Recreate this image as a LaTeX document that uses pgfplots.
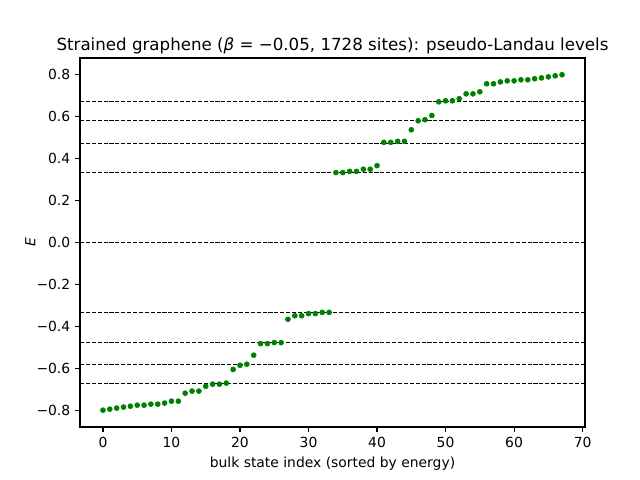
\documentclass[border=0pt]{standalone}
\usepackage{fontspec}
\setmainfont{DejaVu Sans}
\usepackage{pgfplots}
\pgfplotsset{compat=1.18}
\definecolor{dotgreen}{RGB}{0,128,0}

\begin{document}
\begin{tikzpicture}
    % page = 640x480 px at 100 dpi
    \path[use as bounding box] (-57.6pt,-38.16pt) rectangle (403.2pt,307.44pt);
    \begin{axis}[
        at={(0,0)}, anchor=south west,
        scale only axis,
        width=363.6pt,
        height=265.7pt,
        xmin=-3.35, xmax=70.35,
        ymin=-0.879, ymax=0.879,
        xtick={0,10,...,70},
        ytick={-0.8,-0.6,-0.4,-0.2,0,0.2,0.4,0.6,0.8},
        yticklabels={−0.8,−0.6,−0.4,−0.2,0.0,0.2,0.4,0.6,0.8},
        xticklabels={0,10,20,30,40,50,60,70},
        tick align=outside,
        tick pos=left,
        major tick length=3.5pt,
        tick style={black, line width=0.8pt},
        axis line style={line width=0.8pt},
        tick label style={font=\fontsize{10}{12}\selectfont},
        label style={font=\fontsize{10}{12}\selectfont},
        xlabel={bulk state index (sorted by energy)},
        ylabel={\textit{E}},
        xlabel style={yshift=0pt},
        ylabel style={yshift=-6pt},
        title={Strained graphene (\textit{β} = −0.05, 1728 sites): pseudo-Landau levels},
        title style={font=\fontsize{12}{14}\selectfont, yshift=-6.5pt},
    ]
        % pseudo-Landau level guides
        \addplot[black, line width=0.6pt, dash pattern=on 2.96pt off 1.28pt] coordinates {(-3.35,0) (70.35,0)};
        \addplot[black, line width=0.6pt, dash pattern=on 2.96pt off 1.28pt] coordinates {(-3.35,0.335) (70.35,0.335)};
        \addplot[black, line width=0.6pt, dash pattern=on 2.96pt off 1.28pt] coordinates {(-3.35,-0.335) (70.35,-0.335)};
        \addplot[black, line width=0.6pt, dash pattern=on 2.96pt off 1.28pt] coordinates {(-3.35,0.474) (70.35,0.474)};
        \addplot[black, line width=0.6pt, dash pattern=on 2.96pt off 1.28pt] coordinates {(-3.35,-0.474) (70.35,-0.474)};
        \addplot[black, line width=0.6pt, dash pattern=on 2.96pt off 1.28pt] coordinates {(-3.35,0.580) (70.35,0.580)};
        \addplot[black, line width=0.6pt, dash pattern=on 2.96pt off 1.28pt] coordinates {(-3.35,-0.580) (70.35,-0.580)};
        \addplot[black, line width=0.6pt, dash pattern=on 2.96pt off 1.28pt] coordinates {(-3.35,0.670) (70.35,0.670)};
        \addplot[black, line width=0.6pt, dash pattern=on 2.96pt off 1.28pt] coordinates {(-3.35,-0.670) (70.35,-0.670)};

        % bulk states
        \addplot[only marks, mark=*, mark size=1.8pt, color=dotgreen, mark options={draw=dotgreen, fill=dotgreen}] coordinates {
            (0,-0.799) (1,-0.794) (2,-0.789) (3,-0.784) (4,-0.780) (5,-0.775)
            (6,-0.775) (7,-0.770) (8,-0.770) (9,-0.765) (10,-0.756) (11,-0.756)
            (12,-0.718) (13,-0.708) (14,-0.708) (15,-0.685) (16,-0.675) (17,-0.675)
            (18,-0.670) (19,-0.605) (20,-0.585) (21,-0.580) (22,-0.537) (23,-0.482)
            (24,-0.482) (25,-0.477) (26,-0.477) (27,-0.366) (28,-0.349) (29,-0.349)
            (30,-0.339) (31,-0.339) (32,-0.333) (33,-0.333)
            (34,0.333) (35,0.333) (36,0.339) (37,0.339) (38,0.349) (39,0.349)
            (40,0.366) (41,0.477) (42,0.477) (43,0.482) (44,0.482) (45,0.537)
            (46,0.580) (47,0.585) (48,0.605) (49,0.670) (50,0.675) (51,0.675)
            (52,0.685) (53,0.708) (54,0.708) (55,0.718) (56,0.756) (57,0.756)
            (58,0.765) (59,0.770) (60,0.770) (61,0.775) (62,0.775) (63,0.780)
            (64,0.784) (65,0.789) (66,0.794) (67,0.799)
        };
    \end{axis}
\end{tikzpicture}
\end{document}
